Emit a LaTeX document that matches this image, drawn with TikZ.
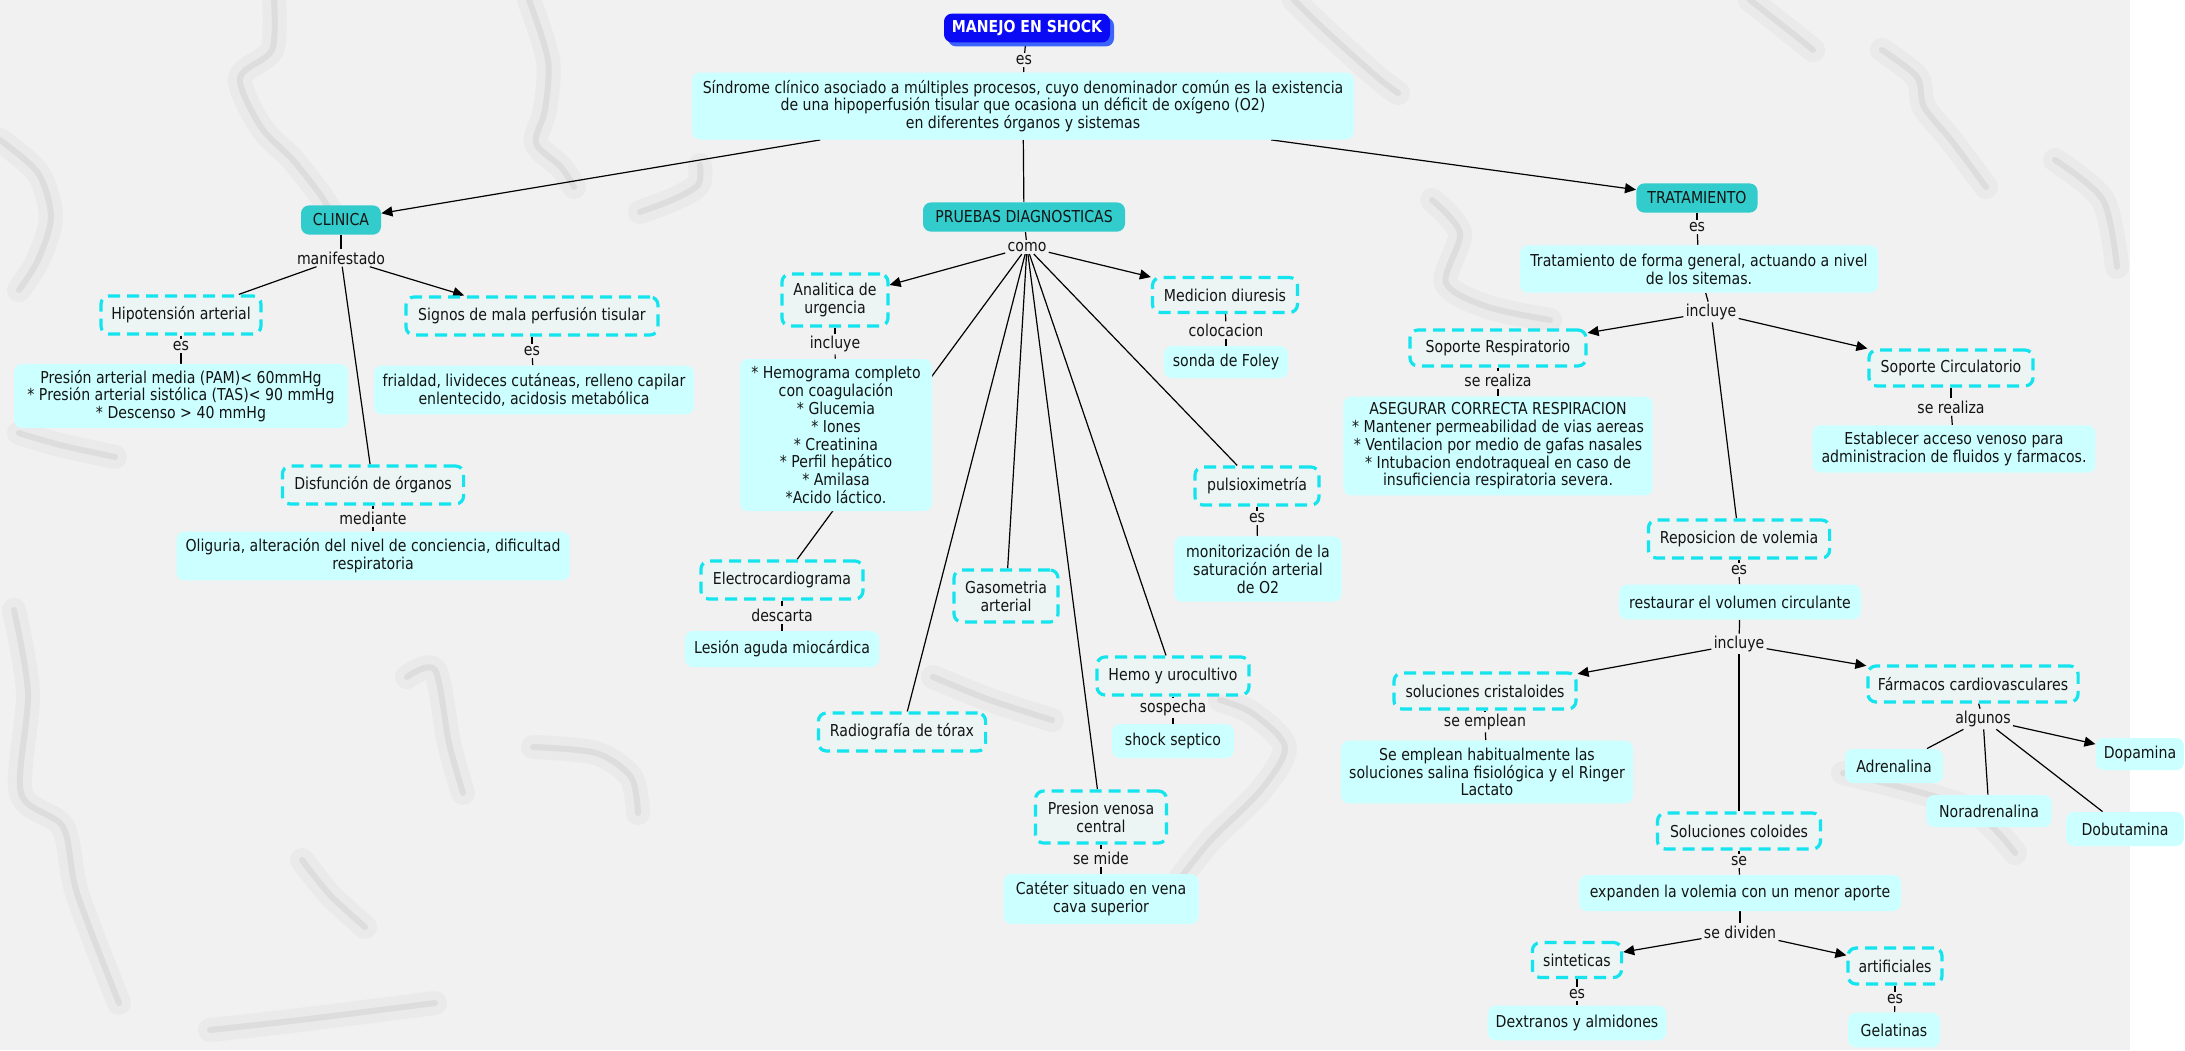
\documentclass[tikz,border=0pt]{standalone}
\usepackage{fontspec}
\setmainfont{DejaVu Sans}[FakeStretch=0.86]
\usetikzlibrary{arrows.meta,shadows}
\definecolor{cbox}{RGB}{204,255,255}
\definecolor{dfill}{RGB}{236,244,244}
\definecolor{dcyan}{RGB}{20,228,238}
\definecolor{tealh}{RGB}{51,204,204}
\definecolor{mblue}{RGB}{10,10,245}
\definecolor{sblue}{RGB}{60,100,250}
\definecolor{bgc}{RGB}{241,241,241}
\definecolor{txt}{RGB}{20,20,20}
\pgfdeclarelayer{bglayer}
\pgfdeclarelayer{edgelayer}
\pgfsetlayers{bglayer,edgelayer,main}
\begin{document}
\begin{tikzpicture}[x=0.5pt,y=-0.5pt,
  font=\fontsize{8.2pt}{8.9pt}\selectfont,
  conc/.style={fill=cbox, rounded corners=4pt, inner xsep=4pt, inner ysep=3pt, align=center, text=txt},
  dbox/.style={fill=dfill, draw=dcyan, line width=1.6pt, dash pattern=on 6pt off 3.5pt, rounded corners=4pt, inner xsep=5pt, inner ysep=3pt, align=center, minimum height=19pt, text=txt},
  hdr/.style={fill=tealh, rounded corners=4pt, inner xsep=4pt, minimum height=14.6pt, text=txt},
  topbox/.style={fill=mblue, text=white, font=\fontsize{8.2pt}{8.9pt}\selectfont\bfseries, rounded corners=4pt, minimum width=83pt, minimum height=14pt, drop shadow={fill=sblue, shadow xshift=2pt, shadow yshift=-2pt, opacity=1}},
  lbl/.style={inner sep=1pt, text=txt},
  ln/.style={line width=0.6pt, black},
  ar/.style={ln, -{Triangle[length=5.5pt,width=5pt]}},
  veinhalo/.style={draw=black!40, opacity=0.08, line width=12pt, line cap=round, line join=round},
  veincore/.style={draw=black!50, opacity=0.12, line width=3pt, line cap=round, line join=round}
]
\useasboundingbox (0,0) rectangle (2185,1050);
\begin{pgfonlayer}{bglayer}
  \fill[white] (0,0) rectangle (2185,1050);
  \fill[bgc] (0,0) rectangle (2130,1050);
  \begin{scope}
  \clip (0,0) rectangle (2130,1050);
  \foreach \s in {veinhalo,veincore}{
    \draw[\s] plot[smooth] coordinates {(274,0) (272,50) (240,78) (261,127) (293,160) (319,193) (330,210)};
    \draw[\s] plot[smooth] coordinates {(529,0) (548,60) (545,110) (536,143) (561,167) (574,187)};
    \draw[\s] plot[smooth] coordinates {(700,165) (698,185) (672,200) (640,212)};
    \draw[\s] plot[smooth] coordinates {(0,140) (38,173) (51,217) (38,260) (19,290)};
    \draw[\s] plot[smooth] coordinates {(19,433) (60,445) (115,457)};
    \draw[\s] plot[smooth] coordinates {(14,610) (28,693) (21,793) (63,827) (77,893) (119,1003)};
    \draw[\s] plot[smooth] coordinates {(407,677) (435,670) (449,743) (463,793)};
    \draw[\s] plot[smooth] coordinates {(533,747) (596,753) (631,777) (638,813)};
    \draw[\s] plot[smooth] coordinates {(302,860) (330,895) (365,927)};
    \draw[\s] plot[smooth] coordinates {(210,1030) (300,1020) (435,1003)};
    \draw[\s] plot[smooth] coordinates {(933,677) (990,700) (1052,720)};
    \draw[\s] plot[smooth] coordinates {(1294,0) (1328,33) (1377,77) (1398,93)};
    \draw[\s] plot[smooth] coordinates {(1750,0) (1792,33) (1813,50)};
    \draw[\s] plot[smooth] coordinates {(1882,50) (1917,77) (1924,107) (1951,140) (1986,187)};
    \draw[\s] plot[smooth] coordinates {(1432,200) (1460,233) (1446,283) (1488,307) (1550,320)};
    \draw[\s] plot[smooth] coordinates {(2055,160) (2103,200) (2117,267)};
    \draw[\s] plot[smooth] coordinates {(1220,700) (1252,713) (1285,747) (1261,790) (1211,840) (1179,880)};
    \draw[\s] plot[smooth] coordinates {(1843,773) (1966,807) (2015,853)};
  }
  \end{scope}
\end{pgfonlayer}

% top
\node[topbox] (manejo) at (1027,28) {MANEJO EN SHOCK};
\node[lbl] (l1) at (1024,60) {es};
\node[conc, minimum width=331pt, minimum height=33.5pt] (sindrome) at (1023,106) {Síndrome clínico asociado a múltiples procesos, cuyo denominador común es la existencia\\ de una hipoperfusión tisular que ocasiona un déficit de oxígeno (O2)\\ en diferentes órganos y sistemas};
\node[hdr, minimum width=40pt] (clinica) at (341,220) {CLINICA};
\node[hdr, minimum width=101pt] (pruebas) at (1024,217) {PRUEBAS DIAGNOSTICAS};
\node[hdr, minimum width=60.6pt] (tratamiento) at (1697,198) {TRATAMIENTO};

% left
\node[lbl] (l2) at (341,258) {manifestado};
\node[dbox, minimum width=80pt] (hipot) at (181,315) {Hipotensión arterial};
\node[dbox, minimum width=126pt] (signos) at (532,316) {Signos de mala perfusión tisular};
\node[lbl] (l3) at (181,346) {es};
\node[conc, minimum width=167pt, minimum height=32pt] (presion) at (181,396) {Presión arterial media (PAM)< 60mmHg\\ * Presión arterial sistólica (TAS)< 90 mmHg\\ * Descenso > 40 mmHg};
\node[lbl] (l4) at (532,351) {es};
\node[conc, minimum width=160pt, minimum height=24.4pt] (frialdad) at (534,390) {frialdad, livideces cutáneas, relleno capilar\\ enlentecido, acidosis metabólica};
\node[dbox, minimum width=90.6pt] (disf) at (373,485) {Disfunción de órganos};
\node[lbl] (l5) at (373,518) {mediante};
\node[conc, minimum width=196.5pt, minimum height=24.4pt] (oliguria) at (373,556) {Oliguria, alteración del nivel de conciencia, dificultad\\ respiratoria};

% middle
\node[lbl] (l6) at (1027,247) {como};
\node[dbox, minimum width=53pt, minimum height=26pt] (analitica) at (835,300) {Analitica de\\ urgencia};
\node[lbl] (l7) at (835,344) {incluye};
\node[conc, minimum width=96pt, minimum height=76pt] (hemograma) at (836,435) {* Hemograma completo\\ con coagulación\\ * Glucemia\\ * Iones\\ * Creatinina\\ * Perfil hepático\\ * Amilasa\\ *Acido láctico.};
\node[dbox, minimum width=72.5pt, minimum height=17.5pt] (medicion) at (1225,295) {Medicion diuresis};
\node[lbl] (l8) at (1226,330) {colocacion};
\node[conc, minimum width=62pt, minimum height=16pt] (foley) at (1226,362) {sonda de Foley};
\node[dbox, minimum width=62pt] (pulsio) at (1257,486) {pulsioximetría};
\node[lbl] (l9) at (1257,518) {es};
\node[conc, minimum width=83.6pt, minimum height=32.7pt] (monitor) at (1258,569) {monitorización de la\\ saturación arterial\\ de O2};
\node[dbox, minimum width=81pt] (ecg) at (782,580) {Electrocardiograma};
\node[lbl] (l10) at (782,615) {descarta};
\node[conc, minimum width=97pt, minimum height=18pt] (lesion) at (782,649) {Lesión aguda miocárdica};
\node[dbox, minimum width=52pt, minimum height=26pt] (gaso) at (1006,596) {Gasometria\\ arterial};
\node[dbox, minimum width=83.6pt] (radio) at (902,732) {Radiografía de tórax};
\node[dbox, minimum width=76pt] (hemo) at (1173,676) {Hemo y urocultivo};
\node[lbl] (l11) at (1173,708) {sospecha};
\node[conc, minimum width=61pt, minimum height=17pt] (septico) at (1173,741) {shock septico};
\node[dbox, minimum width=65.5pt, minimum height=26pt] (pvc) at (1101,817) {Presion venosa\\ central};
\node[lbl] (l12) at (1101,858) {se mide};
\node[conc, minimum width=97.5pt, minimum height=25pt] (cateter) at (1101,899) {Catéter situado en vena\\ cava superior};

% right
\node[lbl] (l13) at (1697,227) {es};
\node[conc, minimum width=179pt, minimum height=23.7pt] (tratgen) at (1699,269) {Tratamiento de forma general, actuando a nivel\\ de los sitemas.};
\node[lbl] (l14) at (1711,312) {incluye};
\node[dbox, minimum width=88pt, minimum height=18pt] (soprespi) at (1498,348) {Soporte Respiratorio};
\node[lbl] (l15) at (1498,380) {se realiza};
\node[conc, minimum width=154.7pt, minimum height=48.8pt] (asegurar) at (1498,446) {ASEGURAR CORRECTA RESPIRACION\\ * Mantener permeabilidad de vias aereas\\ * Ventilacion por medio de gafas nasales\\ * Intubacion endotraqueal en caso de\\ insuficiencia respiratoria severa.};
\node[dbox, minimum width=82pt, minimum height=18pt] (sopcirc) at (1951,368) {Soporte Circulatorio};
\node[lbl] (l16) at (1951,407) {se realiza};
\node[conc, minimum width=141.4pt, minimum height=23.7pt] (establecer) at (1954,449) {Establecer acceso venoso para\\ administracion de fluidos y farmacos.};
\node[dbox, minimum width=90.6pt] (reposicion) at (1739,539) {Reposicion de volemia};
\node[lbl] (l17) at (1739,570) {es};
\node[conc, minimum width=121pt, minimum height=17.4pt] (restaurar) at (1740,602) {restaurar el volumen circulante};
\node[lbl] (l18) at (1739,644) {incluye};
\node[dbox, minimum width=91pt, minimum height=18pt] (cristal) at (1485,691) {soluciones cristaloides};
\node[lbl] (l19) at (1485,722) {se emplean};
\node[conc, minimum width=146pt, minimum height=31.4pt] (seemp) at (1487,772) {Se emplean habitualmente las\\ soluciones salina fisiológica y el Ringer\\ Lactato};
\node[dbox, minimum width=99.6pt, minimum height=18pt] (farmacos) at (1973,684) {Fármacos cardiovasculares};
\node[lbl] (l20) at (1983,719) {algunos};
\node[conc, minimum width=49pt, minimum height=17pt] (adrenalina) at (1894,766) {Adrenalina};
\node[conc, minimum width=44pt, minimum height=16pt] (dopamina) at (2140,754) {Dopamina};
\node[conc, minimum width=62.7pt, minimum height=16pt] (noradrenalina) at (1989,811) {Noradrenalina};
\node[conc, minimum width=59pt, minimum height=17pt] (dobutamina) at (2125,829) {Dobutamina};
\node[dbox, minimum width=81.5pt, minimum height=18pt] (coloides) at (1739,831) {Soluciones coloides};
\node[lbl] (l21) at (1739,861) {se};
\node[conc, minimum width=161pt, minimum height=18pt] (expanden) at (1740,893) {expanden la volemia con un menor aporte};
\node[lbl] (l22) at (1740,932) {se dividen};
\node[dbox, minimum width=44.6pt, minimum height=17.5pt] (sinteticas) at (1577,960) {sinteticas};
\node[dbox, minimum width=47pt, minimum height=18pt] (artificiales) at (1895,966) {artificiales};
\node[lbl] (l23) at (1577,994) {es};
\node[conc, minimum width=89pt, minimum height=17.4pt] (dextranos) at (1577,1023) {Dextranos y almidones};
\node[lbl] (l24) at (1895,999) {es};
\node[conc, minimum width=46pt, minimum height=17.4pt] (gelatinas) at (1894,1030) {Gelatinas};

\begin{pgfonlayer}{edgelayer}
\draw[ln] (manejo) -- (l1);
\draw[ln] (l1) -- (sindrome);
\draw[ar] (sindrome) -- (clinica);
\draw[ln] (sindrome) -- (pruebas);
\draw[ar] (sindrome) -- (tratamiento);
% left
\draw[ln] (clinica) -- (l2);
\draw[ln] (l2) -- (hipot);
\draw[ar] (l2) -- (signos);
\draw[ln] (l2) -- (disf);
\draw[ln] (hipot) -- (l3);
\draw[ln] (l3) -- (presion);
\draw[ln] (signos) -- (l4);
\draw[ln] (l4) -- (frialdad);
\draw[ln] (disf) -- (l5);
\draw[ln] (l5) -- (oliguria);
% middle
\draw[ln] (pruebas) -- (l6);
\draw[ar] (l6) -- (analitica);
\draw[ar] (l6) -- (medicion);
\draw[ln] (l6) -- (ecg);
\draw[ln] (l6) -- (radio);
\draw[ln] (l6) -- (gaso);
\draw[ln] (l6) -- (pvc);
\draw[ln] (l6) -- (hemo);
\draw[ln] (l6) -- (pulsio);
\draw[ln] (analitica) -- (l7);
\draw[ln] (l7) -- (hemograma);
\draw[ln] (medicion) -- (l8);
\draw[ln] (l8) -- (foley);
\draw[ln] (pulsio) -- (l9);
\draw[ln] (l9) -- (monitor);
\draw[ln] (ecg) -- (l10);
\draw[ln] (l10) -- (lesion);
\draw[ln] (hemo) -- (l11);
\draw[ln] (l11) -- (septico);
\draw[ln] (pvc) -- (l12);
\draw[ln] (l12) -- (cateter);
% right
\draw[ln] (tratamiento) -- (l13);
\draw[ln] (l13) -- (tratgen);
\draw[ln] (tratgen) -- (l14);
\draw[ar] (l14) -- (soprespi);
\draw[ar] (l14) -- (sopcirc);
\draw[ln] (l14) -- (reposicion);
\draw[ln] (soprespi) -- (l15);
\draw[ln] (l15) -- (asegurar);
\draw[ln] (sopcirc) -- (l16);
\draw[ln] (l16) -- (establecer);
\draw[ln] (reposicion) -- (l17);
\draw[ln] (l17) -- (restaurar);
\draw[ln] (restaurar) -- (l18);
\draw[ar] (l18) -- (cristal);
\draw[ar] (l18) -- (farmacos);
\draw[ln] (l18) -- (coloides);
\draw[ln] (cristal) -- (l19);
\draw[ln] (l19) -- (seemp);
\draw[ln] (farmacos) -- (l20);
\draw[ln] (l20) -- (adrenalina);
\draw[ar] (l20) -- (dopamina);
\draw[ln] (l20) -- (noradrenalina);
\draw[ln] (l20) -- (dobutamina);
\draw[ln] (coloides) -- (l21);
\draw[ln] (l21) -- (expanden);
\draw[ln] (expanden) -- (l22);
\draw[ar] (l22) -- (sinteticas);
\draw[ar] (l22) -- (artificiales);
\draw[ln] (sinteticas) -- (l23);
\draw[ln] (l23) -- (dextranos);
\draw[ln] (artificiales) -- (l24);
\draw[ln] (l24) -- (gelatinas);
\end{pgfonlayer}
\end{tikzpicture}
\end{document}
